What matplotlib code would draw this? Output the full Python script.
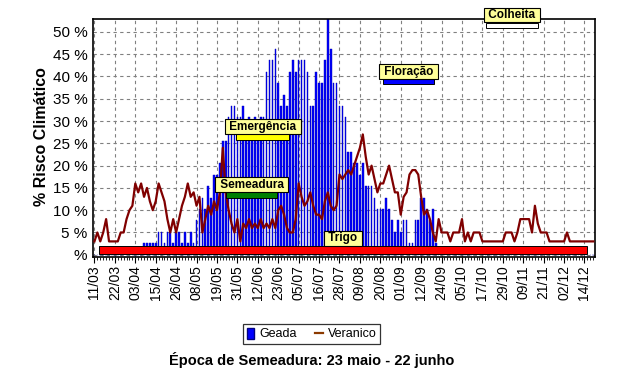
import numpy as np
import matplotlib.pyplot as plt
from matplotlib.patches import Patch
from matplotlib.lines import Line2D
from matplotlib.ticker import MultipleLocator

plt.rcParams['font.family'] = ['Liberation Sans', 'DejaVu Sans']

# rótulos do eixo x (um a cada 7 períodos)
datas = ['11/03', '22/03', '03/04', '15/04', '26/04', '08/05', '19/05', '31/05',
         '12/06', '23/06', '05/07', '16/07', '28/07', '09/08', '20/08', '01/09',
         '12/09', '24/09', '05/10', '17/10', '29/10', '09/11', '21/11', '02/12', '14/12']

# risco de geada (%) por período
geada = ([0] * 17 +
         [2.6, 2.6, 2.6, 2.6, 2.6,
          5.1, 5.1, 2.6, 5.1, 5.1, 2.6, 5.1, 5.1, 2.6, 5.1, 2.6, 5.1, 2.6,
          7.7, 10.3, 12.8, 10.3, 15.4, 12.8, 17.9, 17.9, 20.5, 25.6,
          25.6, 30.8, 33.3, 33.3, 30.8, 30.8, 33.3, 28.2, 30.8, 28.2,
          30.8, 28.2, 30.8, 30.8, 41.0, 43.6, 43.6, 46.2, 38.5, 33.3,
          35.9, 33.3, 41.0, 43.6, 41.0, 43.6, 43.6, 43.6, 41.0, 33.3,
          33.3, 41.0, 38.5, 38.5, 43.6, 53.8, 46.2, 38.5, 38.5, 33.3,
          33.3, 30.8, 23.1, 23.1, 20.5, 20.5, 17.9, 20.5, 15.4, 15.4,
          15.4, 12.8, 10.3, 10.3, 10.3, 12.8, 10.3, 7.7, 5.1, 7.7,
          5.1, 7.7, 7.7, 2.6, 2.6, 7.7, 7.7, 12.8, 12.8, 10.3,
          7.7, 10.3, 2.6] +
         [0] * 54)

# risco de veranico (%) por período
veranico = [3, 5, 3, 5, 8, 3, 3, 3, 3, 5,
            5, 8, 10, 11, 16, 14, 16, 13, 15, 12,
            10, 12, 16, 14, 12, 8, 5, 8, 5, 8,
            11, 13, 16, 13, 14, 11, 13, 5, 8, 11,
            9, 12, 10, 14, 24, 14, 10, 7, 5, 8,
            3, 7, 6, 8, 6, 7, 6, 8, 6, 7,
            6, 8, 6, 10, 11, 9, 6, 5, 5, 8,
            16, 13, 11, 12, 14, 11, 9, 9, 8, 12,
            14, 11, 10, 11, 18, 17, 18, 19, 18, 20,
            22, 24, 27, 22, 18, 20, 17, 14, 16, 16,
            18, 20, 17, 14, 14, 9, 13, 14, 18, 19,
            19, 18, 13, 9, 10, 8, 5, 3, 8, 5,
            5, 5, 3, 5, 5, 5, 8, 3, 5, 3,
            5, 5, 5, 3, 3, 3, 3, 3, 3, 3,
            3, 5, 5, 5, 3, 5, 8, 8, 8, 8,
            5, 11, 7, 5, 5, 5, 3, 3, 3, 3,
            3, 3, 5, 3, 3, 3, 3, 3, 3, 3,
            3, 3]

# fases da cultura (inicio / fim em períodos)
fases = ['Trigo', 'Semeadura', 'Emergência', 'Floração', 'Colheita']
fase_ini = [1.4, 45.2, 48.6, 99.0, 134.2]
fase_fim = [168.8, 62.7, 66.8, 116.4, 152.1]

x = np.arange(len(geada))

fig = plt.figure(figsize=(6.25, 3.89), dpi=100)
ax = fig.add_axes([93/625, 1-257/389, (595-93)/625, (257-19)/389])

ax.set_axisbelow(True)
ax.grid(True, color='#808080', linestyle=(0, (3, 3)), linewidth=0.8)

ax.bar(x, geada, width=0.55, color='#0000FF', edgecolor='#0000B0', linewidth=0.3, zorder=2)
ax.plot(x, veranico, color='#800000', lw=1.6, zorder=3)

# barras das fases
niveis = [(0.2, 2.0), (12.8, 14.0), (25.7, 27.0), (38.3, 39.4), (50.9, 52.1)]
cores = ['#FF0000', '#008000', '#FFFF00', '#0000FF', '#FFFFFF']
for nome, ini, fim, (y0, y1), c in zip(fases, fase_ini, fase_fim, niveis, cores):
    ax.barh((y0+y1)/2, fim-ini, left=ini, height=y1-y0, color=c,
            edgecolor='black', linewidth=0.7, zorder=4)
    ax.text((ini+fim)/2, y1 + 1.7, ' ' + nome + ' ', ha='center', va='center',
            fontsize=8.5, fontweight='bold', zorder=5, clip_on=False,
            bbox=dict(boxstyle='square,pad=0.12', fc='#FFFF99', ec='black', lw=0.8))

ax.set_xlim(-0.5, 171.6)
ax.set_ylim(-0.5, 52.9)
ax.set_xticks(np.arange(len(datas)) * 7)
ax.set_xticklabels(datas, rotation=90, fontsize=10)
ax.xaxis.set_minor_locator(MultipleLocator(1))
ax.tick_params(axis='x', which='major', length=4, pad=2)
ax.tick_params(axis='x', which='minor', length=2.5)
ax.set_yticks(np.arange(0, 51, 5))
ax.set_yticklabels(['%'] + [str(v) + ' %' for v in range(5, 51, 5)], fontsize=11)
ax.tick_params(axis='y', length=0, pad=4)
for s in ax.spines.values():
    s.set_linewidth(1.2)

fig.text(42/625, 1-137/389, '% Risco Climático', rotation=90, ha='center', va='center',
         fontsize=11.5, fontweight='bold')

handles = [Patch(facecolor='#0000FF', edgecolor='#000080'),
           Line2D([0], [0], color='#8B3A00', lw=1.6)]
leg = fig.legend(handles, ['Geada', 'Veranico'], loc='center', bbox_to_anchor=(311.5/625, 1-334/389),
                 ncol=2, fontsize=9, frameon=True, fancybox=False, handlelength=0.6,
                 handleheight=1.0, handletextpad=0.4, columnspacing=1.5, borderpad=0.25)
leg.get_frame().set_edgecolor('black')
leg.get_frame().set_linewidth(0.9)

fig.text(312/625, 1-360/389, 'Época de Semeadura: 23 maio - 22 junho', ha='center', va='center',
         fontsize=10.5, fontweight='bold')

fig.savefig('out.png', dpi=100)
